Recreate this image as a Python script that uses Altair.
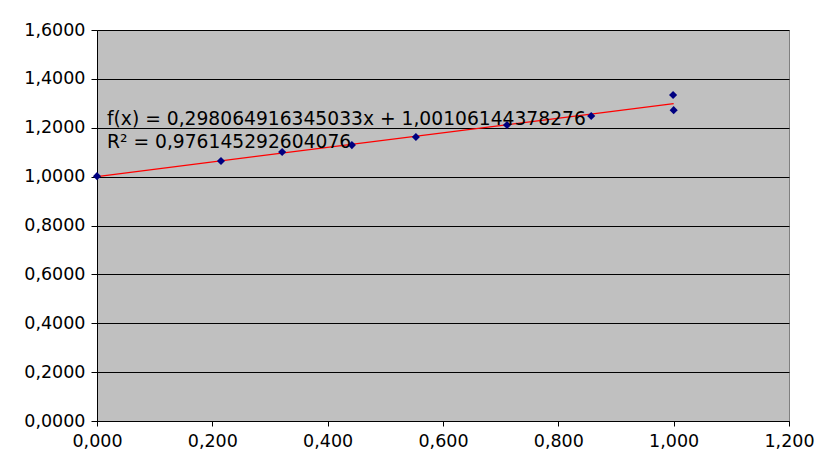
import altair as alt
import pandas as pd

x_vals = [0.000, 0.215, 0.321, 0.442, 0.553, 0.711, 0.857, 0.999, 1.000]
y_vals = [1.002, 1.064, 1.101, 1.129, 1.162, 1.211, 1.248, 1.334, 1.272]
x_ticks = [0.0, 0.2, 0.4, 0.6, 0.8, 1.0, 1.2]
y_ticks = [0.0, 0.2, 0.4, 0.6, 0.8, 1.0, 1.2, 1.4, 1.6]
eq_line = "f(x) = 0,298064916345033x + 1,00106144378276"
r2_line = "R² = 0,976145292604076"

df = pd.DataFrame({"x": x_vals, "y": y_vals})
FONT = "DejaVu Sans"

xscale = alt.Scale(domain=[0, 1.2], nice=False, zero=False)
yscale = alt.Scale(domain=[0, 1.6], nice=False, zero=False)

xaxis = alt.Axis(
    values=x_ticks, title=None, grid=False,
    labelExpr="replace(format(datum.value, '.3f'), '.', ',')",
    domainColor="black", tickColor="black", tickSize=5,
    labelColor="black", labelFont=FONT, labelFontSize=17.5, labelPadding=6,
    labelFlush=False,
)
yaxis = alt.Axis(
    values=y_ticks, title=None, grid=True, gridColor="black", gridWidth=1, gridOpacity=1,
    labelExpr="replace(format(datum.value, '.4f'), '.', ',')",
    domainColor="black", tickColor="black", tickSize=6,
    labelColor="black", labelFont=FONT, labelFontSize=17.5, labelPadding=6,
    labelFlush=False,
)

base = alt.Chart(df)

points = base.mark_point(shape="diamond", filled=True, color="#000080", size=66, opacity=1).encode(
    x=alt.X("x:Q", scale=xscale, axis=xaxis),
    y=alt.Y("y:Q", scale=yscale, axis=yaxis),
)

trend = base.transform_regression("x", "y", extent=[0, 1]).mark_line(color="#ff0000", strokeWidth=1.2).encode(
    x=alt.X("x:Q", scale=xscale),
    y=alt.Y("y:Q", scale=yscale),
)

txt_df = pd.DataFrame({"t": [eq_line]})
txt_df2 = pd.DataFrame({"t": [r2_line]})
t1 = alt.Chart(txt_df).mark_text(align="left", baseline="middle", font=FONT, fontSize=18.7, color="black").encode(
    x=alt.value(10), y=alt.value(89), text="t:N"
)
t2 = alt.Chart(txt_df2).mark_text(align="left", baseline="middle", font=FONT, fontSize=18.7, color="black").encode(
    x=alt.value(10), y=alt.value(112), text="t:N"
)

chart = alt.layer(trend, points, t1, t2).properties(
    width=692, height=391,
    autosize=alt.AutoSizeParams(type="none"),
    padding={"left": 89, "top": 22, "right": 30, "bottom": 30},
    background="white",
).configure_view(
    fill="#c0c0c0", stroke="#808080", strokeWidth=1
)

chart.save("out.html", embed_options={"renderer": "svg", "actions": False})
